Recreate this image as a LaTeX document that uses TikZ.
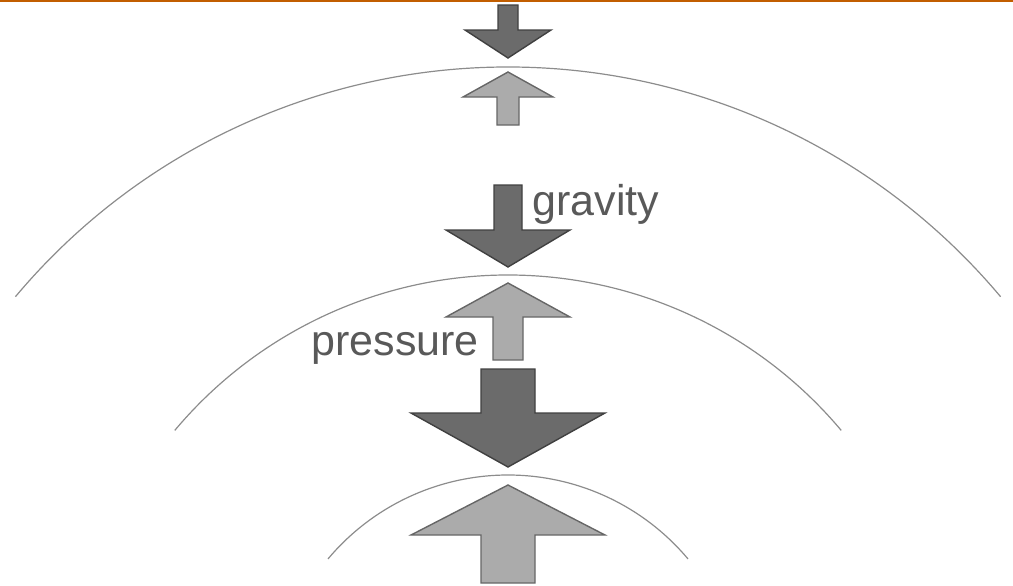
\documentclass[tikz,border=0pt]{standalone}
\usepackage{fontspec}
\setmainfont{Liberation Sans}
\usetikzlibrary{calc}
\definecolor{rim}{HTML}{C25E00}
\definecolor{heavy}{HTML}{6B6B6B}
\definecolor{light}{HTML}{ABABAB}

\begin{document}
\begin{tikzpicture}[
  x=0.5pt, y=-0.5pt,
  shell/.style={draw=black!45, line width=0.6pt},
  grav/.style={fill=heavy, draw=black!75, line width=0.7pt},
  pres/.style={fill=light, draw=black!60, line width=0.7pt},
  lbl/.style={font=\fontsize{21.5}{24}\selectfont, text=black!65, inner sep=0pt, anchor=base west}
]
\useasboundingbox (0,0) rectangle (1013,585);
\draw[rim, line width=1pt] (0,0.8) -- (1013,0.8);
\coordinate (core) at (508,710);
% layers
\foreach \r in {643,435,235}
  \draw[shell] (core) ++(-140:\r) arc[start angle=-140, end angle=-40, radius=\r];
% gravity: top/base/tip/shaft/head
\foreach \t/\b/\p/\s/\h in {5/30/58/10/43, 185/230/267/14/62, 369/413/467/27/97}
  \draw[grav] (508-\s,\t) -- (508+\s,\t) -- (508+\s,\b) -- (508+\h,\b)
    -- (508,\p) -- (508-\h,\b) -- (508-\s,\b) -- cycle;
% pressure: bottom/base/tip/shaft/head
\foreach \t/\b/\p/\s/\h in {125/97/72/11/45, 360/317/283/15/62, 583/535/485/27/97}
  \draw[pres] (508-\s,\t) -- (508-\s,\b) -- (508-\h,\b) -- (508,\p)
    -- (508+\h,\b) -- (508+\s,\b) -- (508+\s,\t) -- cycle;
\node[lbl] (gravity) at (532,215) {gravity};
\node[lbl] (pressure) at (311,355) {pressure};
\end{tikzpicture}
\end{document}
